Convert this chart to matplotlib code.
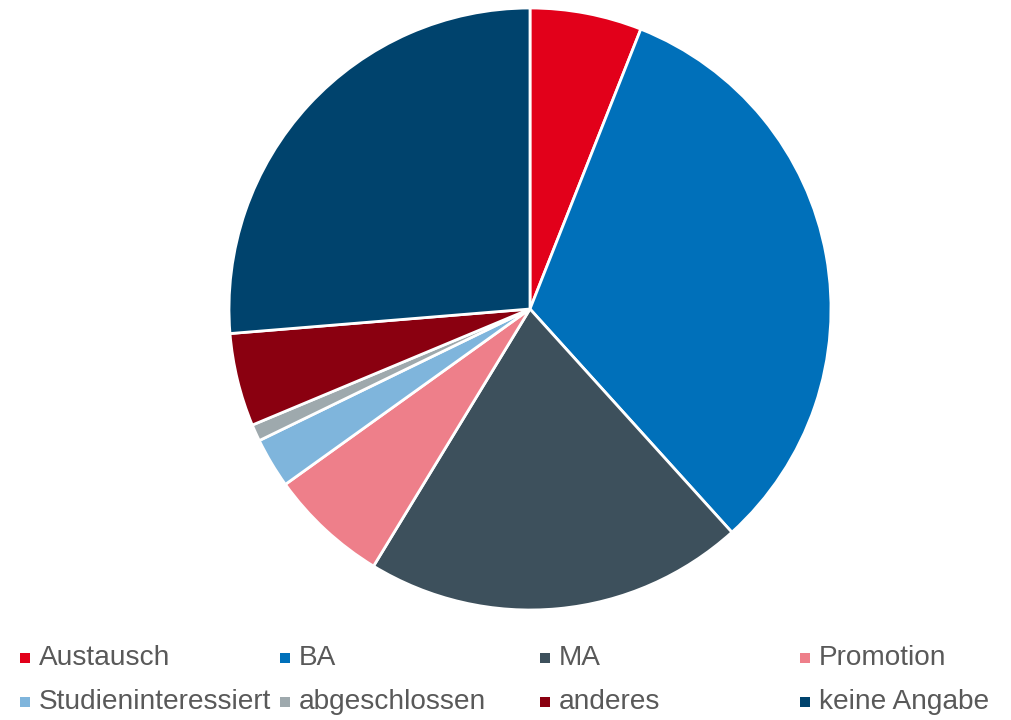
import matplotlib
matplotlib.use("Agg")
import matplotlib.pyplot as plt
from matplotlib.patches import Rectangle

categories = ["Austausch", "BA", "MA", "Promotion",
              "Studieninteressiert", "abgeschlossen", "anderes", "keine Angabe"]
values = [6.0, 32.3, 20.4, 6.4, 2.7, 0.9, 5.0, 26.3]
colors = ["#E2001A", "#0070BA", "#3D505C", "#EE7F8A",
          "#7FB5DC", "#9EA9AD", "#8A0010", "#00436D"]

plt.rcParams['font.family'] = ['Liberation Sans', 'DejaVu Sans']

W, H = 1012, 720
fig = plt.figure(figsize=(W / 100, H / 100), dpi=100)

cx, cy, r = 530, 309, 301
ax = fig.add_axes([(cx - r) / W, (H - cy - r) / H, 2 * r / W, 2 * r / H])
ax.pie(values, colors=colors, startangle=90, counterclock=False, radius=1,
       wedgeprops=dict(edgecolor="white", linewidth=2))
ax.set_xlim(-1.0, 1.0)
ax.set_ylim(-1.0, 1.0)
ax.set_aspect("equal")
ax.axis("off")

# legend laid out as 4 columns x 2 rows
col_x = [20, 280, 540, 800]
row_y = [658, 702]
for i, (lab, col) in enumerate(zip(categories, colors)):
    x = col_x[i % 4]
    y = row_y[i // 4]
    s = 10
    fig.patches.append(Rectangle((x / W, (H - y - s / 2) / H), s / W, s / H,
                                 transform=fig.transFigure, facecolor=col,
                                 edgecolor="none"))
    fig.text((x + s + 9) / W, (H - y) / H, lab, fontsize=20.2, color="#595959",
             ha="left", va="center")

fig.savefig("out.png", dpi=100)
